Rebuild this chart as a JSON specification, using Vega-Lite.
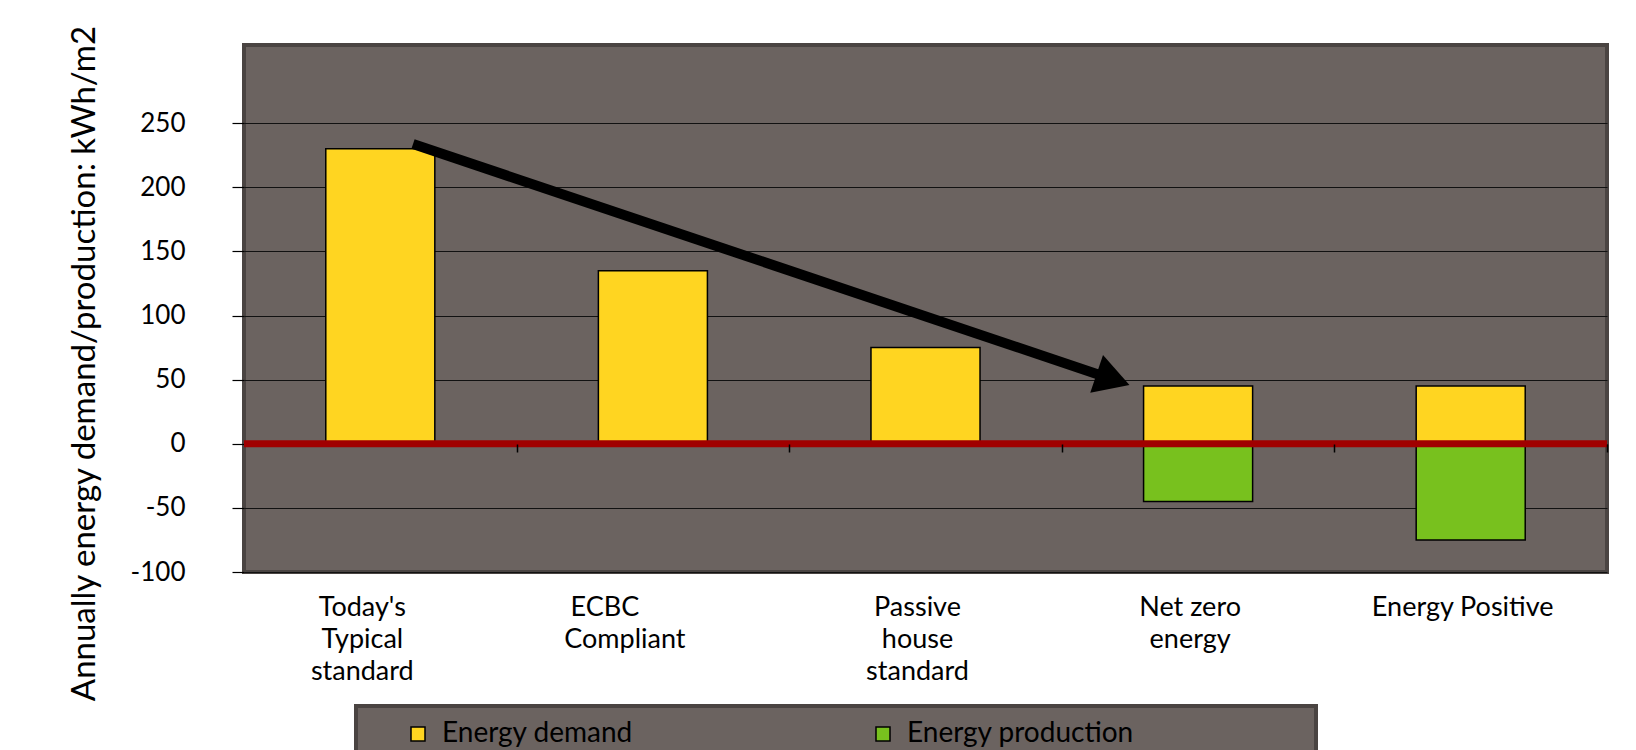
{
  "$schema": "https://vega.github.io/schema/vega-lite/v6.json",
  "width": 1363,
  "height": 527,
  "autosize": {"type": "none"},
  "padding": {"left": 244, "top": 45, "right": 29, "bottom": 178},
  "background": "white",
  "config": {
    "view": {"fill": "#6b6360", "stroke": "#4a4442", "strokeWidth": 4},
    "font": "Lato",
    "axis": {"labelFont": "Lato", "titleFont": "Lato", "labelColor": "black", "titleColor": "black"},
    "legend": {"labelFont": "Lato", "strokeWidth": 4}
  },
  "datasets": {
    "bars": [
      {"category": "Today's Typical standard", "type": "Energy demand", "value": 230},
      {"category": "ECBC Compliant", "type": "Energy demand", "value": 135},
      {"category": "Passive house standard", "type": "Energy demand", "value": 75},
      {"category": "Net zero energy", "type": "Energy demand", "value": 45},
      {"category": "Net zero energy", "type": "Energy production", "value": -45},
      {"category": "Energy Positive", "type": "Energy demand", "value": 45},
      {"category": "Energy Positive", "type": "Energy production", "value": -75}
    ],
    "arrow": [
      {"pos": 0.62, "level": 233.8},
      {"pos": 3.188, "level": 50.2}
    ],
    "arrowhead": [
      {"pos": 3.188, "level": 50.2}
    ]
  },
  "resolve": {"scale": {"x": "independent"}, "axis": {"x": "independent"}},
  "layer": [
    {
      "data": {"name": "bars"},
      "mark": {"type": "bar", "stroke": "black", "strokeWidth": 1.5},
      "encoding": {
        "x": {
          "field": "category",
          "type": "nominal",
          "sort": null,
          "scale": {"paddingInner": 0.6, "paddingOuter": 0.3},
          "axis": {
            "title": null,
            "orient": "bottom",
            "ticks": false,
            "domain": false,
            "labelAngle": 0,
            "labelFontSize": 27,
            "labelPadding": 22,
            "labelLineHeight": 32,
            "labelBaseline": "top",
            "labelLimit": 400,
            "labelOffset": -8,
            "labelExpr": "datum.label == \"Today's Typical standard\" ? [\"Today's\u2800\", 'Typical\u2800', 'standard\u2800'] : datum.label == 'ECBC Compliant' ? ['ECBC\u2800\u2800\u2800\u2800', 'Compliant\u2800\u2800'] : datum.label == 'Passive house standard' ? ['Passive', 'house', 'standard'] : datum.label == 'Net zero energy' ? ['Net zero', 'energy'] : datum.label"
          }
        },
        "y": {
          "field": "value",
          "type": "quantitative",
          "stack": "zero",
          "scale": {"domain": [-100, 311], "nice": false, "zero": false},
          "axis": {
            "title": "Annually energy demand/production: kWh/m2",
            "values": [-100, -50, 0, 50, 100, 150, 200, 250],
            "labelExpr": "datum.value + ''",
            "grid": true,
            "gridColor": "#111111",
            "gridWidth": 1.2,
            "domain": false,
            "tickColor": "black",
            "tickSize": 12,
            "tickWidth": 1.2,
            "labelPadding": 47,
            "labelFontSize": 26,
            "titleFontSize": 33,
            "titleFontWeight": "normal",
            "titleX": -160,
            "titleY": 318,
            "titleBaseline": "middle",
            "titleAngle": 270
          }
        },
        "color": {
          "field": "type",
          "type": "nominal",
          "scale": {"domain": ["Energy demand", "Energy production"], "range": ["#FFD521", "#78C11E"]},
          "legend": {
            "orient": "none",
            "legendX": 112,
            "legendY": 661,
            "direction": "horizontal",
            "title": null,
            "fillColor": "#6b6360",
            "strokeColor": "#4a4442",
            "padding": 14,
            "symbolType": "square",
            "symbolSize": 196,
            "symbolStrokeColor": "black",
            "symbolStrokeWidth": 1.5,
            "symbolOpacity": 1,
            "symbolOffset": 34,
            "labelFontSize": 28,
            "labelColor": "black",
            "labelOffset": 10,
            "labelLimit": 600,
            "columnPadding": 202,
            "labelExpr": "datum.label == 'Energy production' ? datum.label + '\u2800\u2800\u2800\u2800\u2800\u2800\u2800\u2800' : datum.label"
          }
        }
      }
    },
    {
      "data": {"values": [{}]},
      "mark": {"type": "rule", "color": "#a00000", "strokeWidth": 7},
      "encoding": {"y": {"datum": 0, "type": "quantitative"}}
    },
    {
      "layer": [
        {
          "data": {"name": "arrow"},
          "mark": {"type": "line", "color": "black", "strokeWidth": 10, "strokeCap": "butt"},
          "encoding": {
            "x": {
              "field": "pos",
              "type": "quantitative",
              "scale": {"domain": [0, 5], "nice": false, "zero": false},
              "axis": {
                "orient": "top",
                "offset": -399,
                "values": [1, 2, 3, 4, 5],
                "labels": false,
                "domain": false,
                "grid": false,
                "title": null,
                "tickColor": "black",
                "tickSize": -8,
                "tickWidth": 1.5,
                "zindex": 2
              }
            },
            "y": {"field": "level", "type": "quantitative"}
          }
        },
        {
          "data": {"name": "arrowhead"},
          "mark": {"type": "point", "shape": "triangle-right", "filled": true, "color": "black", "opacity": 1, "size": 1600, "angle": 18.6},
          "encoding": {
            "x": {"field": "pos", "type": "quantitative"},
            "y": {"field": "level", "type": "quantitative"}
          }
        }
      ]
    }
  ]
}
